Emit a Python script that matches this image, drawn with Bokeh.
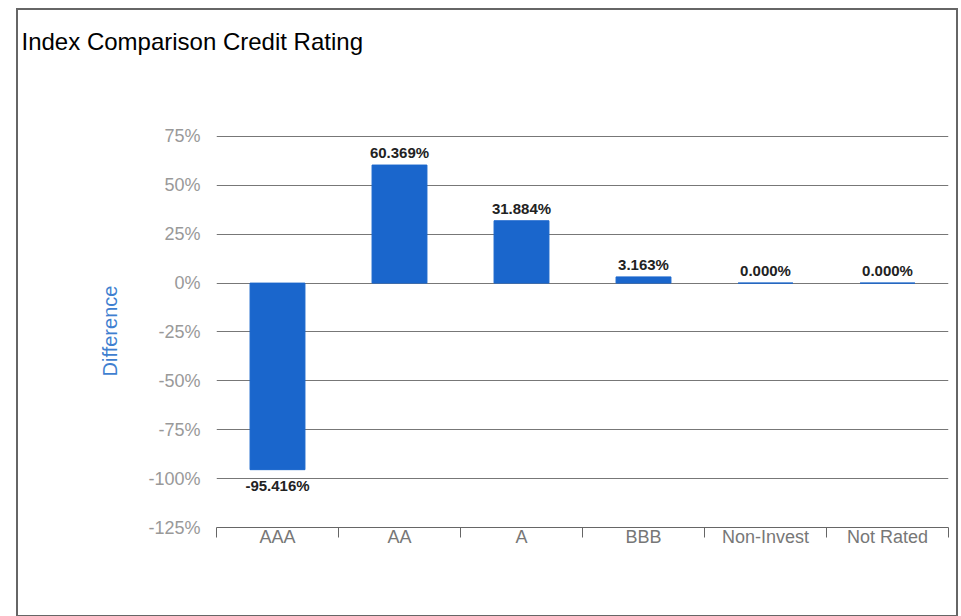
from bokeh.plotting import figure
from bokeh.layouts import column, row
from bokeh.models import Range1d, FixedTicker, Title, Spacer
from bokeh.core.properties import value
from bokeh.embed import file_html
from bokeh.resources import INLINE

categories = ["AAA", "AA", "A", "BBB", "Non-Invest", "Not Rated"]
differences = [-95.416, 60.369, 31.884, 3.163, 0.000, 0.000]
y_ticks = [-125, -100, -75, -50, -25, 0, 25, 50, 75]
y_tick_labels = ["-125%", "-100%", "-75%", "-50%", "-25%", "0%", "25%", "50%", "75%"]
title_text = "Index Comparison Credit Rating"
y_label = "Difference"

FONT = "Liberation Sans"
BAR_COLOR = "#1a66cc"
GRID_COLOR = "#777777"

n = len(categories)
centers = [i + 0.5 for i in range(n)]
boundaries = list(range(n + 1))

p = figure(
    x_range=Range1d(0, n), y_range=Range1d(y_ticks[0], y_ticks[-1] + 1),
    frame_width=728, frame_height=389,
    min_border_left=198, min_border_right=12, min_border_top=124, min_border_bottom=92,
    output_backend="svg", toolbar_location=None,
    styles={"border": "2px solid #666666", "background": "white"},
)
p.outline_line_color = None
p.background_fill_color = "white"
p.border_fill_color = "white"

# spacer panel between the frame and the title (nearest the frame)
filler = Title(text=" ", text_font_size="1px", standoff=77, text_color="white")
p.add_layout(filler, "above")
main_title = Title(text=title_text, align="left", offset=-195, standoff=0,
                   text_font=FONT, text_font_size="24px", text_font_style="normal",
                   text_color="black")
p.add_layout(main_title, "above")

# y axis
yax = p.yaxis[0]
yax.ticker = FixedTicker(ticks=y_ticks, minor_ticks=[])
yax.major_label_overrides = {float(t): lab for t, lab in zip(y_ticks, y_tick_labels)}
yax.axis_line_color = None
yax.major_tick_line_color = None
yax.minor_tick_line_color = None
yax.major_tick_out = 0
yax.major_label_standoff = 16
yax.major_label_text_font = FONT
yax.major_label_text_font_size = "18px"
yax.major_label_text_color = "#999999"
yax.axis_label = y_label
yax.axis_label_text_font = FONT
yax.axis_label_text_font_size = "20px"
yax.axis_label_text_font_style = "normal"
yax.axis_label_text_color = "#3f7fd0"
yax.axis_label_standoff = 24

# x axis
xax = p.xaxis[0]
xax.ticker = FixedTicker(ticks=centers, minor_ticks=boundaries)
xax.major_label_overrides = {float(c): cat for c, cat in zip(centers, categories)}
xax.major_tick_line_color = None
xax.major_tick_out = 0
xax.major_tick_in = 0
xax.minor_tick_out = 10
xax.minor_tick_in = 0
xax.minor_tick_line_color = "#666666"
xax.axis_line_color = "#666666"
xax.major_label_standoff = -11
xax.major_label_text_font = FONT
xax.major_label_text_font_size = "18px"
xax.major_label_text_color = "#777777"

p.xgrid.grid_line_color = None
p.ygrid.ticker = FixedTicker(ticks=y_ticks, minor_ticks=[])
p.ygrid.grid_line_color = GRID_COLOR
p.ygrid.grid_line_width = 1

p.vbar(x=centers, top=differences, bottom=0, width=0.45,
       fill_color=BAR_COLOR, line_color=BAR_COLOR)

pos_x = [c for c, v in zip(centers, differences) if v >= 0]
pos_y = [v for v in differences if v >= 0]
pos_t = [f"{v:.3f}%" for v in differences if v >= 0]
neg_x = [c for c, v in zip(centers, differences) if v < 0]
neg_y = [v for v in differences if v < 0]
neg_t = [f"{v:.3f}%" for v in differences if v < 0]

p.text(x=pos_x, y=pos_y, text=pos_t, text_align="center", text_baseline="bottom",
       y_offset=-4, text_font=value(FONT), text_font_size="15px",
       text_font_style="bold", text_color="#222222")
p.text(x=neg_x, y=neg_y, text=neg_t, text_align="center", text_baseline="top",
       y_offset=7, text_font=value(FONT), text_font_size="15px",
       text_font_style="bold", text_color="#222222")

layout = column(Spacer(height=8), row(Spacer(width=16), p))

open("out.html", "w").write(file_html(layout, INLINE))
